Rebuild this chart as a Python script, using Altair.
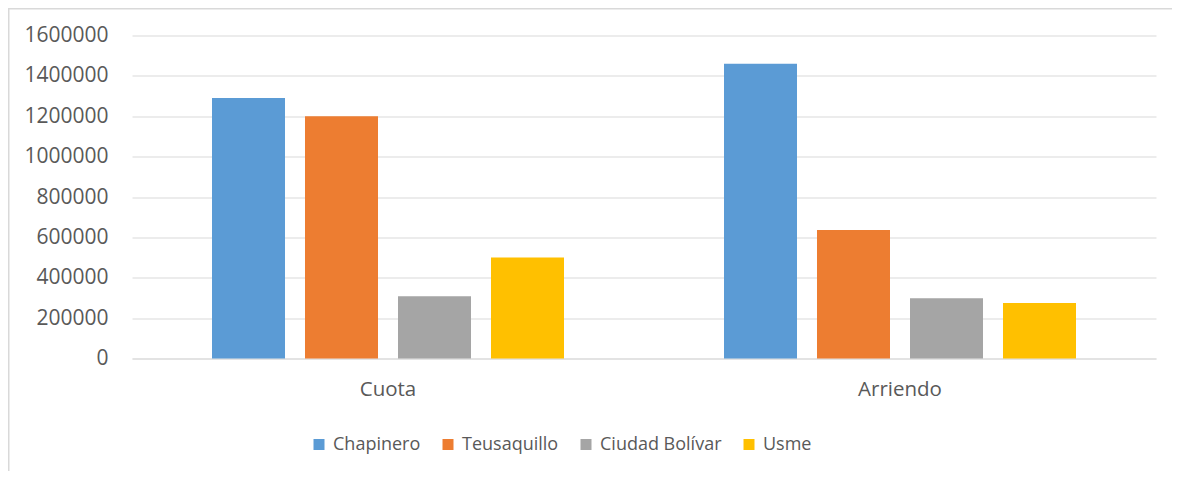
import altair as alt
import pandas as pd

categories = ["Cuota", "Arriendo"]
series = ["Chapinero", "Teusaquillo", "Ciudad Bolívar", "Usme"]
cuota_values = [1290000, 1200000, 308000, 500000]
arriendo_values = [1460000, 636000, 298000, 275000]
colors = ["#5B9BD5", "#ED7D31", "#A5A5A5", "#FFC000"]
y_ticks = [0, 200000, 400000, 600000, 800000, 1000000, 1200000, 1400000, 1600000]

rows = []
for s, v in zip(series, cuota_values):
    rows.append({"Categoria": "Cuota", "Serie": s, "Valor": v})
for s, v in zip(series, arriendo_values):
    rows.append({"Categoria": "Arriendo", "Serie": s, "Valor": v})
df = pd.DataFrame(rows)

# chart frame (top and left edges), in pixels relative to the plot area
frame = pd.DataFrame({"x": [-124, -123.25], "x2": [1056, -123.25],
                      "y": [-26.75, -27.5], "y2": [-26.75, 440]})

FONT = "Open Sans"
TXT = "#595959"
GRID = "#D9D9D9"

bars = alt.Chart(df).mark_bar().encode(
    x=alt.X("Categoria:N", sort=categories, title=None,
            scale=alt.Scale(paddingInner=0.3125, paddingOuter=0.15625),
            axis=alt.Axis(labelAngle=0, ticks=False, domain=True, domainColor=GRID,
                          domainWidth=1.2, labelPadding=21, labelFontSize=20.5,
                          labelColor=TXT, labelFont=FONT, grid=False)),
    xOffset=alt.XOffset("Serie:N", sort=series,
                        scale=alt.Scale(paddingInner=0.215, paddingOuter=0)),
    y=alt.Y("Valor:Q", title=None,
            scale=alt.Scale(domain=[0, 1600000], nice=False),
            axis=alt.Axis(values=y_ticks, format="d", ticks=False, domain=False,
                          grid=True, gridColor=GRID, gridWidth=1.2,
                          labelPadding=24, labelFontSize=21, labelColor=TXT,
                          labelFont=FONT)),
    color=alt.Color("Serie:N", sort=series,
                    scale=alt.Scale(domain=series, range=colors),
                    legend=alt.Legend(title=None, orient="none", direction="horizontal",
                                      legendX=178, legendY=400, symbolType="square",
                                      symbolSize=121, symbolStrokeWidth=0,
                                      labelFontSize=18, labelColor=TXT, labelFont=FONT,
                                      labelOffset=5, columnPadding=18)),
)

border = alt.Chart(frame).mark_rule(color=GRID, strokeWidth=1.5).encode(
    x=alt.X("x:Q", scale=None), x2="x2:Q",
    y=alt.Y("y:Q", scale=None), y2="y2:Q")

chart = alt.layer(bars, border).properties(
    width=1024, height=323,
    background="white",
    autosize=alt.AutoSizeParams(type="none"),
    padding={"left": 124, "top": 27.5, "right": 16, "bottom": 112},
).configure_view(stroke="transparent", strokeWidth=0)

chart.save("out.html", embed_options={"renderer": "svg", "actions": False})
